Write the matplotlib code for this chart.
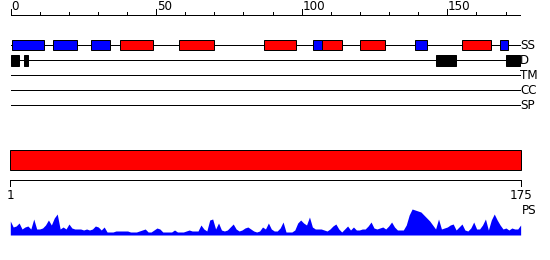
#!/usr/bin/env python3
"""
Protein feature map: secondary structure / disorder tracks,
full-length domain bar and a per-residue PS profile.
"""

import matplotlib
matplotlib.use('Agg')
import matplotlib.pyplot as plt
import numpy as np

W, H = 550, 260

seq_len = 175
ruler_ticks = list(range(0, 171, 10))
ruler_labels = [0, 50, 100, 150]

tracks = ['SS', 'D', 'TM', 'CC', 'SP']

# secondary structure elements (start, end in residues)
ss_start = [0.5, 14.5, 27.5, 37.5, 58, 87, 104, 107, 120, 139, 155, 168]
ss_end = [11.5, 23, 34, 49, 70, 98, 107, 114, 128.5, 143, 165, 171]
ss_color = ['#0000ff', '#0000ff', '#0000ff', '#ff0000', '#ff0000', '#ff0000',
            '#0000ff', '#ff0000', '#ff0000', '#0000ff', '#ff0000', '#0000ff']

# disordered regions
d_start = [0, 4.6, 146, 170]
d_end = [3, 6, 153, 175]

# full length bar
bar_start = 1
bar_end = 175

# per-residue PS profile (arbitrary units)
ps_profile = [
    14, 8, 9, 12, 6, 8, 9, 6, 16, 6,
    6, 7, 10, 15, 10, 17, 21, 6, 8, 6,
    11, 7, 6, 6, 6, 5, 6, 5, 6, 9,
    8, 5, 8, 3, 3, 3, 4, 4, 4, 4,
    4, 3, 3, 3, 4, 5, 6, 3, 3, 5,
    7, 6, 3, 3, 3, 3, 5, 3, 3, 3,
    4, 5, 4, 4, 4, 10, 6, 4, 15, 16,
    6, 12, 5, 4, 5, 8, 11, 6, 4, 5,
    7, 8, 6, 4, 3, 4, 8, 6, 12, 6,
    4, 4, 7, 13, 3, 3, 3, 5, 12, 15,
    12, 10, 18, 8, 6, 6, 6, 5, 4, 6,
    9, 11, 6, 3, 6, 9, 5, 8, 5, 5,
    6, 6, 9, 13, 7, 6, 7, 8, 6, 9,
    13, 8, 5, 5, 5, 10, 20, 26, 25, 24,
    23, 20, 17, 14, 10, 6, 16, 6, 7, 8,
    10, 11, 5, 8, 11, 5, 4, 7, 13, 6,
    6, 10, 16, 5, 15, 21, 15, 10, 6, 7,
    5, 7, 6, 6, 10,
]

LW = 0.72  # one pixel
FONT = dict(family='DejaVu Sans', fontstretch='condensed')

fig = plt.figure(figsize=(W / 100, H / 100), dpi=100)

# ---- top panel: ruler + tracks (x in residues, y in pixel rows) ----
ax = fig.add_axes([0, 0, 1, 1])
px0, ppu = 10.5, 2.912
ax.set_xlim(-px0 / ppu, (W - px0) / ppu)
ax.set_ylim(H, 0)
ax.axis('off')

ruler_y = 15
ax.plot([0, seq_len], [ruler_y, ruler_y], color='black', lw=LW)
for t in ruler_ticks:
    tl = 6 if t in ruler_labels else 3.5
    ax.plot([t, t], [ruler_y, ruler_y - tl], color='black', lw=LW)
for t in ruler_labels:
    ax.text(t + 0.2, 9.5, str(t), ha='left', va='baseline', fontsize=9.5, **FONT)

track_y = [45.3, 60.3, 75.3, 90, 105.3]
for name, y in zip(tracks, track_y):
    ax.plot([0, seq_len], [y, y], color='black', lw=LW, zorder=1)
    ax.text(seq_len, y + 0.5, name, ha='left', va='center', fontsize=9.5, **FONT)

ss_w = np.array(ss_end) - np.array(ss_start)
ax.barh([track_y[0]] * len(ss_start), ss_w, left=ss_start, height=10.4,
        color=ss_color, edgecolor='black', linewidth=LW, zorder=2)

d_w = np.array(d_end) - np.array(d_start)
ax.barh([track_y[1]] * len(d_start), d_w, left=d_start, height=10.6,
        color='black', edgecolor='black', linewidth=LW, zorder=2)

# ---- middle: domain bar and residue axis ----
bx = fig.add_axes([0, 0, 1, 1])
bx.patch.set_alpha(0)
bpx0, bppu = 10.3, 2.933
bx.set_xlim(1 - bpx0 / bppu, 1 + (W - bpx0) / bppu)
bx.set_ylim(H, 0)
bx.axis('off')

bx.barh([160.3], [bar_end - bar_start], left=bar_start, height=20,
        color='#ff0000', edgecolor='black', linewidth=LW)
bx.plot([bar_start, bar_end], [180.3, 180.3], color='black', lw=LW)
for t in [bar_start, bar_end]:
    bx.plot([t, t], [180.3, 185.5], color='black', lw=LW)
    bx.text(t, 195.5, str(t), ha='center', va='center', fontsize=9.5, **FONT)
bx.text(bar_end + 0.3, 211, 'PS', ha='left', va='center', fontsize=9.5, **FONT)

# ---- bottom: PS profile ----
px = fig.add_axes([0, (H - 235) / H, 1, 30 / H])
px.patch.set_alpha(0)
px.set_xlim(1 - bpx0 / bppu, 1 + (W - bpx0) / bppu)
px.set_ylim(0, 30)
px.axis('off')
res = np.arange(1, seq_len + 1)
px.fill_between(res, 0, ps_profile, color='#0000ff', linewidth=0)
px.plot([seq_len, 1 + (534 - bpx0) / bppu], [0.3, 0.3], color='#0000ff', lw=LW)

fig.savefig('out.png', dpi=100)
plt.close('all')
